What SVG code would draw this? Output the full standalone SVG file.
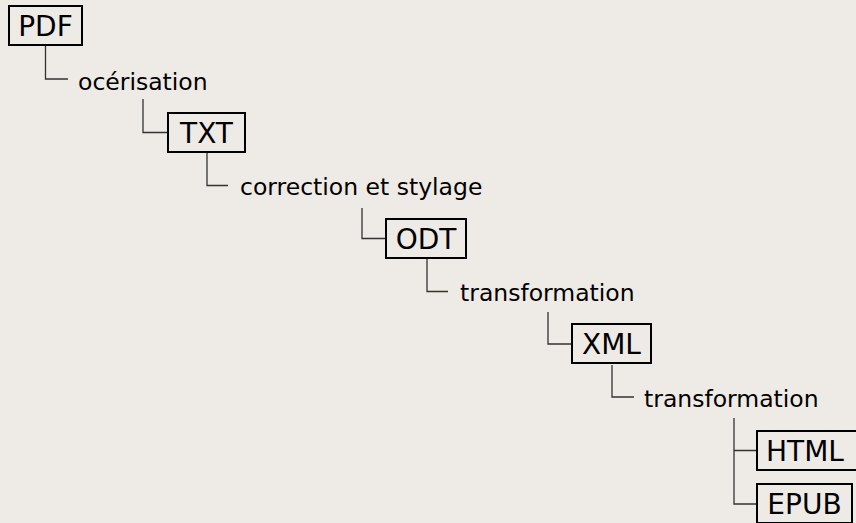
<svg xmlns="http://www.w3.org/2000/svg" width="856" height="523" viewBox="0 0 856 523">
<style>
.box rect{fill:none;stroke:#000;stroke-width:2}
.box text{font-family:"DejaVu Sans",sans-serif;font-size:28px;fill:#000;text-anchor:middle}
.lbl text{font-family:"DejaVu Sans",sans-serif;font-size:23.5px;fill:#000}
#connectors path{fill:none;stroke:#333;stroke-width:1.3}
</style>
<rect x="0" y="0" width="856" height="523" fill="#eeeae5"/>
<g id="connectors">
<path d="M45.5,46 V79 H68"/>
<path d="M143,99 V132.5 H167"/>
<path d="M207,153 V185.5 H228"/>
<path d="M362,208 V238.5 H385"/>
<path d="M427,259 V291.5 H448"/>
<path d="M548,312 V344 H571"/>
<path d="M612,365 V397 H634"/>
<path d="M734,418 V504 H756 M734,450.5 H756"/>
</g>
<g id="pdf" class="box"><rect x="9" y="6" width="73" height="39"/><text x="45.5" y="35.5">PDF</text></g>
<g id="ocerisation" class="lbl"><text x="78" y="89.5">océrisation</text></g>
<g id="txt" class="box"><rect x="168" y="113" width="77" height="39"/><text x="206.5" y="142.5">TXT</text></g>
<g id="correction" class="lbl"><text x="240" y="194.5">correction et stylage</text></g>
<g id="odt" class="box"><rect x="386" y="219" width="80" height="39"/><text x="426" y="248.5">ODT</text></g>
<g id="transformation1" class="lbl"><text x="460" y="300.5">transformation</text></g>
<g id="xml" class="box"><rect x="572" y="324" width="79" height="39"/><text x="611.5" y="354">XML</text></g>
<g id="transformation2" class="lbl"><text x="644" y="406.5">transformation</text></g>
<g id="html" class="box"><rect x="757" y="431" width="100" height="39"/><text x="805" y="460.5">HTML</text></g>
<g id="epub" class="box"><rect x="757" y="484" width="95" height="39"/><text x="804.5" y="514">EPUB</text></g>
</svg>
